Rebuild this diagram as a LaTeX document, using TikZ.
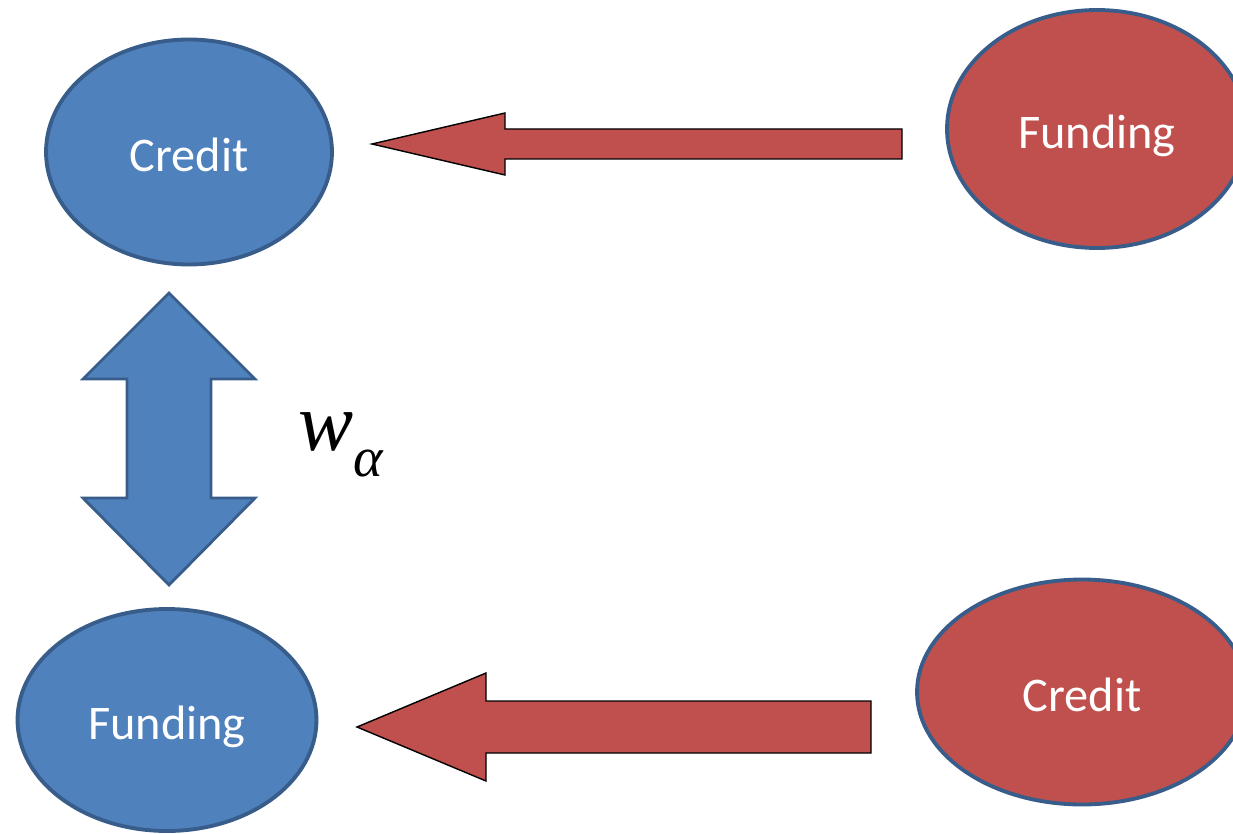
\documentclass[tikz,border=0pt]{standalone}
\usepackage{fontspec}
\setmainfont{Carlito}
\newfontfamily\timesfont{Liberation Serif}
\usetikzlibrary{shapes.geometric}

\definecolor{offblue}{HTML}{4F81BD}
\definecolor{offred}{HTML}{C0504D}
\definecolor{offline}{HTML}{385D8A}

\tikzset{
  bubble/.style={ellipse, draw=offline, line width=2.2pt, inner sep=0pt,
    text=white, font=\fontsize{27.5}{30}\selectfont, text height=22pt, text depth=0pt},
  bluebubble/.style={bubble, fill=offblue},
  redbubble/.style={bubble, fill=offred},
  redarrow/.style={fill=offred, draw=black, line width=0.8pt, line join=miter},
  bluearrow/.style={fill=offblue, draw=offline, line width=1.6pt, line join=miter}
}

\begin{document}
\begin{tikzpicture}[x=0.02cm,y=-0.02cm]
    \path[use as bounding box, clip] (0,0) rectangle (1233,834);
    % ellipses
    \node[bluebubble, minimum width=5.72cm, minimum height=4.5cm]  (creditL)  at (189,152) {Credit};
    \node[bluebubble, minimum width=5.98cm, minimum height=4.44cm] (fundingL) at (167,720) {Funding};
    \node[redbubble,  minimum width=6.0cm,  minimum height=4.76cm] (fundingR) at (1097,129) {Funding};
    \node[redbubble,  minimum width=6.6cm,  minimum height=4.5cm]  (creditR)  at (1082,692) {Credit};
    % block arrows
    \draw[redarrow] (902,129)--(505,129)--(505,113)--(372,144)--(505,175)--(505,159)--(902,159)--cycle;
    \draw[redarrow] (871,701)--(486,701)--(486,673)--(357,727)--(486,781)--(486,753)--(871,753)--cycle;
    \draw[bluearrow] (169,293)--(255,379)--(211,379)--(211,498)--(255,498)--(169,585)
                     --(83,498)--(127,498)--(127,379)--(83,379)--cycle;
    \node[anchor=base west, inner sep=0pt] (walpha) at (298,450)
      {\timesfont\itshape\fontsize{47}{50}\selectfont w\raisebox{-0.32em}{\fontsize{32}{32}\selectfont α}};
\end{tikzpicture}
\end{document}
